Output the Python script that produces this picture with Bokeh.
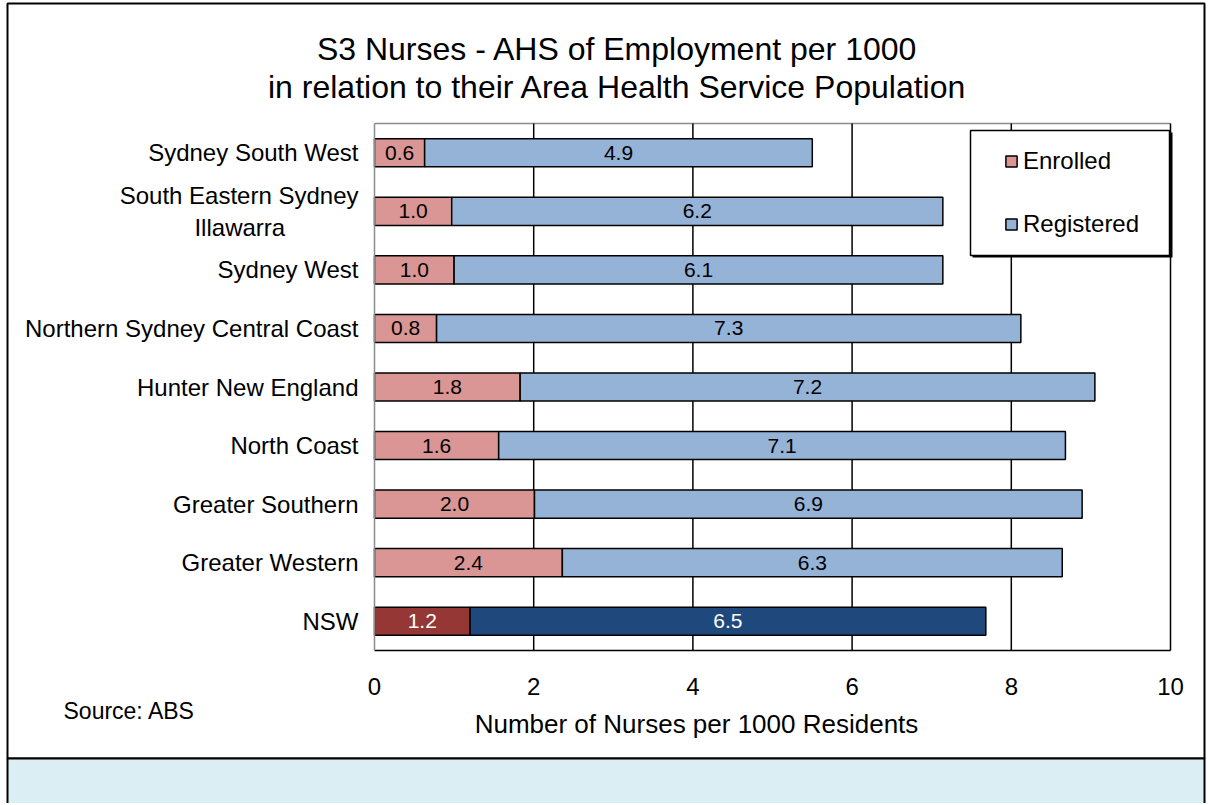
import numpy as np
from bokeh.plotting import figure
from bokeh.models import (ColumnDataSource, Range1d, Label, BoxAnnotation,
                          Legend, LegendItem, FixedTicker)
from bokeh.core.properties import value
from bokeh.embed import file_html
from bokeh.resources import INLINE

# ---------------- data ----------------
categories = ["Sydney South West", "South Eastern Sydney\nIllawarra", "Sydney West",
              "Northern Sydney Central Coast", "Hunter New England", "North Coast",
              "Greater Southern", "Greater Western", "NSW"]
enrolled = [0.63, 0.97, 1.0, 0.78, 1.83, 1.56, 2.01, 2.36, 1.2]
registered = [4.87, 6.17, 6.14, 7.34, 7.22, 7.12, 6.88, 6.28, 6.48]
x_ticks = [0, 2, 4, 6, 8, 10]
x_min, x_max = 0, 10

# ---------------- layout constants (pixels) ----------------
W, H = 1206, 803
PA_L, PA_R, PA_T, PA_B = 374, 1170, 123, 650   # plot-area edges on the canvas
n = len(categories)
px_x = (PA_R - PA_L) / (x_max - x_min)
px_y = (PA_B - PA_T) / n

FONT = "Liberation Sans"
E_COL, R_COL = "#D99694", "#95B3D7"
E_NSW, R_NSW = "#953735", "#1F497D"
GRAY = "#8C8C8C"

enr = np.array(enrolled)
reg = np.array(registered)
ypos = [n - 1 - i for i in range(n)]          # first category on top
is_nsw = [c == "NSW" for c in categories]

src_e = ColumnDataSource(dict(
    y=ypos, left=np.zeros(n), right=enr, mid=enr / 2,
    lab=[f"{v:.1f}" for v in enr],
    color=[E_NSW if k else E_COL for k in is_nsw],
    tcolor=["white" if k else "black" for k in is_nsw]))
src_r = ColumnDataSource(dict(
    y=ypos, left=enr, right=enr + reg, mid=enr + reg / 2,
    lab=[f"{v:.1f}" for v in reg],
    color=[R_NSW if k else R_COL for k in is_nsw],
    tcolor=["white" if k else "black" for k in is_nsw]))

# ranges so that the frame fills the whole canvas
x_start = x_min - PA_L / px_x
x_end = x_max + (W - PA_R) / px_x
y_top = (n - 0.5) + PA_T / px_y
y_bot = -0.5 - (H - PA_B) / px_y

p = figure(width=W, height=H, x_range=Range1d(x_start, x_end),
           y_range=Range1d(y_bot, y_top), output_backend="svg",
           toolbar_location=None, min_border=0)
p.title.visible = False
p.outline_line_color = None
p.background_fill_color = "white"
p.border_fill_color = "white"
p.xgrid.grid_line_color = None
p.ygrid.grid_line_color = None

def cbox(l, r, t, b, **kw):
    p.add_layout(BoxAnnotation(left=l, right=r, top=t, bottom=b,
                               left_units="canvas", right_units="canvas",
                               top_units="canvas", bottom_units="canvas", **kw))

# outer border and bottom light-blue panel
cbox(7, W - 2, 3, 758, fill_alpha=0, line_color="black", line_alpha=1.0,
     line_width=2, level="underlay")
cbox(7, W - 2, 758, H + 10, fill_color="#DAEEF3", fill_alpha=1.0,
     line_color="black", line_alpha=1.0, line_width=2, level="underlay")

# plot-area top edge and vertical grid lines
p.segment(x0=x_min, x1=x_max, y0=n - 0.5, y1=n - 0.5, line_color=GRAY, line_width=1.5)
gx = [t for t in x_ticks if t != x_min]
p.segment(x0=gx, x1=gx, y0=-0.5, y1=n - 0.5, line_color="black", line_width=1.5)

# axes fixed at the plot-area edges
p.xaxis.fixed_location = -0.5
p.xaxis.bounds = (x_min, x_max)
p.xaxis.ticker = FixedTicker(ticks=x_ticks)
p.xaxis.major_tick_line_color = None
p.xaxis.minor_tick_line_color = None
p.xaxis.major_tick_out = 0
p.xaxis.major_label_standoff = 27
p.xaxis.major_label_text_font = FONT
p.xaxis.major_label_text_font_size = "24px"
p.xaxis.major_label_text_color = "black"
p.xaxis.axis_line_color = "black"
p.xaxis.axis_line_width = 1.5

NB = "\u00a0"
overrides = {}
for y, c in zip(ypos, categories):
    if "\n" in c:
        a, b = c.split("\n")
        c = a + "\n" + b + NB * 11
    overrides[y] = c

p.yaxis.fixed_location = x_min
p.yaxis.bounds = (-0.5, n - 0.5)
p.yaxis.ticker = FixedTicker(ticks=ypos)
p.yaxis.major_label_overrides = overrides
p.yaxis.major_tick_line_color = None
p.yaxis.minor_tick_line_color = None
p.yaxis.major_tick_out = 0
p.yaxis.major_label_standoff = 16
p.yaxis.major_label_text_font = FONT
p.yaxis.major_label_text_font_size = "24px"
p.yaxis.major_label_text_color = "black"
p.yaxis.axis_line_color = GRAY
p.yaxis.axis_line_width = 1.5

# bars
re = p.hbar(y="y", left="left", right="right", height=0.48, source=src_e,
            fill_color="color", line_color="black", line_width=1.5)
rr = p.hbar(y="y", left="left", right="right", height=0.48, source=src_r,
            fill_color="color", line_color="black", line_width=1.5)

for s in (src_e, src_r):
    p.text(x="mid", y="y", text="lab", source=s, text_color="tcolor",
           text_align="center", text_baseline="middle",
           text_font=value(FONT), text_font_size="21px")

# legend frame (with a slight shadow) drawn over the grid lines
cbox(972, 1172, 132, 257, fill_color="black", fill_alpha=1.0, line_alpha=0)
cbox(970, 1169, 130, 255, fill_color="white", fill_alpha=1.0,
     line_color="black", line_alpha=1.0, line_width=1.5)

legend = Legend(items=[LegendItem(label="Enrolled", renderers=[re], index=0),
                       LegendItem(label="Registered", renderers=[rr], index=0)],
                location=(1004, H - 237.5), orientation="vertical",
                label_text_font=FONT, label_text_font_size="24px",
                label_text_color="black",
                glyph_width=14, glyph_height=14, label_standoff=5,
                label_height=27, spacing=35, padding=0,
                border_line_color=None, background_fill_alpha=0)
p.add_layout(legend)

# texts
def canvas_label(x, y, text, size, align="center"):
    p.add_layout(Label(x=x, y=y, x_units="canvas", y_units="canvas", text=text,
                       text_align=align, text_baseline="middle",
                       text_font=FONT, text_font_size=size, text_color="black"))

canvas_label(617, 48, "S3 Nurses - AHS of Employment per 1000", "32px")
canvas_label(617, 86, "in relation to their Area Health Service Population", "32px")
canvas_label(63, 710, "Source: ABS", "23px", align="left")
canvas_label(696, 723, "Number of Nurses per 1000 Residents", "26px")

open("out.html", "w").write(file_html(p, INLINE))
